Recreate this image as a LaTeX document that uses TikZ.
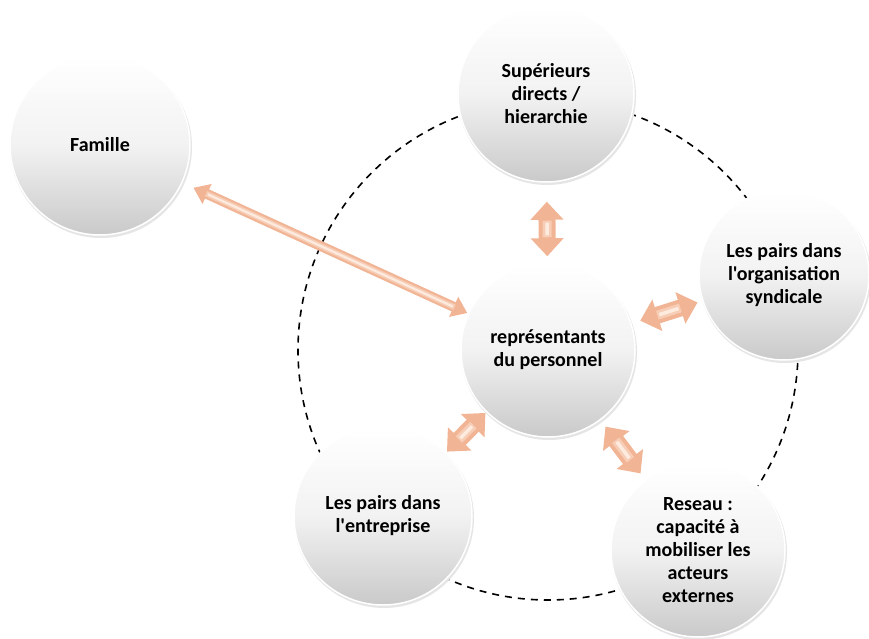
\documentclass[tikz,border=0pt]{standalone}
\usepackage{fontspec}
\setmainfont{Carlito}[Ligatures=TeXOff]
\usetikzlibrary{arrows.meta}
\definecolor{peach}{HTML}{F1B595}
\definecolor{peachmid}{HTML}{F7CDB6}
\definecolor{peachlight}{HTML}{FDEBDF}
\tikzset{
  ball/.style={circle, minimum size=#1, inner sep=0pt, align=center,
    font=\bfseries\fontsize{20}{23}\selectfont,
    shading=axis, top color=white, bottom color=black!21, middle color=black!5,
    draw=white, line width=1.5pt},
  ballshadow/.style={fill=black!10},
  orbit/.style={draw=black, line width=1.6pt, dash pattern=on 7pt off 6pt},
  bigarr/.style={draw=peach, line width=17pt,
    {Triangle[width=32pt,length=18pt]}-{Triangle[width=32pt,length=18pt]}},
  bigmid/.style={draw=peachmid, line width=9pt},
  bighi/.style={draw=peachlight, line width=3.5pt},
  thinarr/.style={draw=peach, line width=10pt,
    {Triangle[width=21pt,length=15pt]}-{Triangle[width=21pt,length=15pt]}},
  thinmid/.style={draw=peachmid, line width=5.5pt},
  thinhi/.style={draw=peachlight, line width=2.2pt},
}
\begin{document}
\begin{tikzpicture}[x=1pt,y=-1pt]
\useasboundingbox (0,0) rectangle (869,639);
% orbit
\coordinate (oc) at (548,350);
\draw[orbit] (oc) circle (250);
% soft shadows
\fill[ballshadow] (101,147) circle (91);
\fill[ballshadow] (547,96) circle (89);
\fill[ballshadow] (785,277) circle (86);
\fill[ballshadow] (549,352) circle (88);
\fill[ballshadow] (384,518) circle (90);
\fill[ballshadow] (699,552) circle (88);
% nodes
\node[ball=180pt] (fam) at (100,145) {Famille};
\node[ball=176pt] (sup) at (546,94) {Supérieurs\\directs /\\hierarchie};
\node[ball=170pt] (org) at (784,275) {Les pairs dans\\l'organisation\\syndicale};
\node[ball=174pt] (cen) at (548,350) {représentants\\du personnel};
\node[ball=178pt] (ent) at (383,516) {Les pairs dans\\l'entreprise};
\node[ball=174pt] (res) at (698,550) {Reseau :\\capacité à\\mobiliser les\\acteurs\\externes};
% connectors
\draw[thinarr, shorten <=12pt, shorten >=1pt] (fam) -- (cen);
\draw[thinmid, shorten <=26pt, shorten >=15pt] (fam) -- (cen);
\draw[thinhi, shorten <=28pt, shorten >=17pt] (fam) -- (cen);
\draw[bigarr, shorten <=19pt, shorten >=6pt] (sup) -- (cen);
\draw[bigmid, shorten <=38pt, shorten >=25pt] (sup) -- (cen);
\draw[bighi, shorten <=40pt, shorten >=27pt] (sup) -- (cen);
\draw[bigarr, shorten <=9pt, shorten >=5pt] (cen) -- (org);
\draw[bigmid, shorten <=27pt, shorten >=23pt] (cen) -- (org);
\draw[bighi, shorten <=29pt, shorten >=25pt] (cen) -- (org);
\draw[bigarr, shorten <=1pt, shorten >=1pt] (cen) -- (ent);
\draw[bigmid, shorten <=18pt, shorten >=18pt] (cen) -- (ent);
\draw[bighi, shorten <=20pt, shorten >=20pt] (cen) -- (ent);
\draw[bigarr, shorten <=8pt, shorten >=8pt] (cen) -- (res);
\draw[bigmid, shorten <=25pt, shorten >=25pt] (cen) -- (res);
\draw[bighi, shorten <=27pt, shorten >=27pt] (cen) -- (res);
\end{tikzpicture}
\end{document}
